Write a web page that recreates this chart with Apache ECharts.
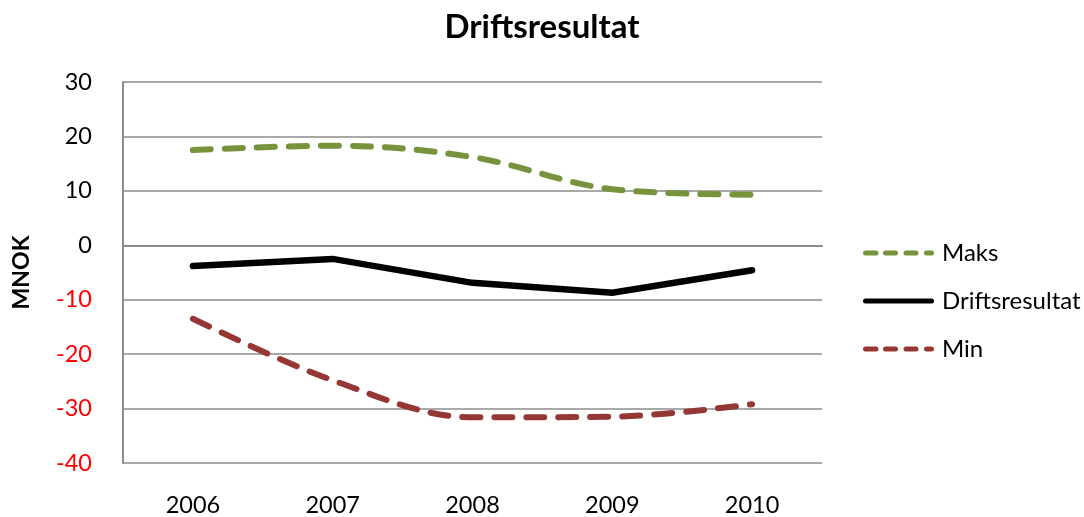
<!DOCTYPE html>
<html>
<head>
<meta charset="utf-8">
<script src="https://cdn.jsdelivr.net/npm/echarts@6/dist/echarts.min.js"></script>
<style>
  html, body { margin: 0; padding: 0; background: #fff; }
  #chart { width: 1084px; height: 517px; }
</style>
</head>
<body>
<div id="chart"></div>
<script>
// Årstall og verdier (MNOK)
const years = ['2006', '2007', '2008', '2009', '2010'];
const maks = [17.5, 18.3, 16.2, 10.3, 9.3];
const driftsresultat = [-3.8, -2.5, -6.9, -8.7, -4.6];
const min = [-13.5, -24.8, -31.6, -31.5, -29.2];
const yTicks = { min: -40, max: 30, step: 10 };

const FONT = 'Lato, "Open Sans", sans-serif';

// Rounded bar segment for legend icons (height 5)
function seg(x0, x1) {
  const r = 2.5;
  return 'M' + (x0 + r) + ' 0 H' + (x1 - r) +
    ' A' + r + ' ' + r + ' 0 0 1 ' + (x1 - r) + ' 5' +
    ' H' + (x0 + r) +
    ' A' + r + ' ' + r + ' 0 0 1 ' + (x0 + r) + ' 0 Z';
}
const dashedIcon = 'path://' + seg(0, 15.5) + seg(20, 35) + seg(40.5, 55.5) + seg(61, 71);
const solidIcon = 'path://' + seg(0, 71);

function legendAt(name, icon, top) {
  return {
    orient: 'vertical',
    left: 858,
    top: top,
    itemWidth: 71,
    itemHeight: 5,
    icon: icon,
    textStyle: { fontFamily: FONT, fontSize: 24, lineHeight: 24, color: '#000', padding: [0, 0, 0, 3] },
    data: [name]
  };
}

const chart = echarts.init(document.getElementById('chart'), null, { renderer: 'canvas' });

const dash = [18, 14];

chart.setOption({
  animation: false,
  backgroundColor: '#ffffff',
  title: {
    text: 'Driftsresultat',
    left: 'center',
    top: 6,
    textStyle: { fontFamily: FONT, fontSize: 33, fontWeight: 'bold', color: '#000' }
  },
  grid: { left: 123, right: 262, top: 82, bottom: 54, containLabel: false },
  legend: [
    legendAt('Maks', dashedIcon, 236),
    legendAt('Driftsresultat', solidIcon, 284),
    legendAt('Min', dashedIcon, 332)
  ],
  xAxis: {
    type: 'category',
    data: years,
    boundaryGap: true,
    axisLine: { lineStyle: { color: '#8c8c8c', width: 2 } },
    axisTick: { show: false },
    axisLabel: { fontFamily: FONT, fontSize: 23.5, color: '#000', margin: 30 }
  },
  yAxis: {
    type: 'value',
    min: yTicks.min,
    max: yTicks.max,
    interval: yTicks.step,
    name: 'MNOK',
    nameLocation: 'middle',
    nameGap: 90,
    nameRotate: 90,
    nameTextStyle: { fontFamily: FONT, fontSize: 23, fontWeight: 'bold', color: '#000' },
    axisLine: { show: true, lineStyle: { color: '#8c8c8c', width: 2 } },
    axisTick: { show: false },
    splitLine: { lineStyle: { color: '#8c8c8c', width: 1.5 } },
    axisLabel: {
      fontFamily: FONT,
      fontSize: 23.5,
      margin: 31,
      color: function (v) { return v < 0 ? '#ff0000' : '#000000'; }
    }
  },
  series: [
    {
      name: 'Maks',
      type: 'line',
      data: maks,
      smooth: 0.35,
      symbol: 'none',
      z: 3,
      itemStyle: { color: '#77933c' },
      lineStyle: { color: '#77933c', width: 6, type: dash, cap: 'round' }
    },
    {
      name: 'Driftsresultat',
      type: 'line',
      data: driftsresultat,
      smooth: false,
      symbol: 'none',
      z: 3,
      itemStyle: { color: '#000000' },
      lineStyle: { color: '#000000', width: 6.5, cap: 'round', join: 'miter' }
    },
    {
      name: 'Min',
      type: 'line',
      data: min,
      smooth: 0.35,
      symbol: 'none',
      z: 3,
      itemStyle: { color: '#953735' },
      lineStyle: { color: '#953735', width: 6, type: dash, cap: 'round' }
    }
  ]
});
</script>
</body>
</html>
